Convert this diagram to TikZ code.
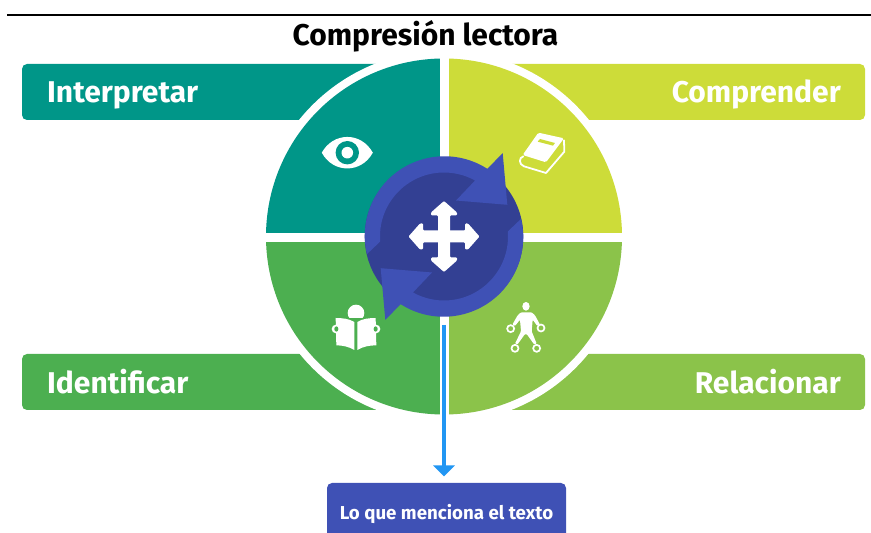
\documentclass[tikz,border=0pt]{standalone}
\usepackage{fontspec}
\setmainfont{Fira Sans}
\usetikzlibrary{arrows.meta}
\definecolor{cTeal}{HTML}{009688}
\definecolor{cLime}{HTML}{CDDC39}
\definecolor{cGreen}{HTML}{4CAF50}
\definecolor{cLeaf}{HTML}{8BC34A}
\definecolor{cIndigo}{HTML}{3F51B5}
\definecolor{cDark}{HTML}{334093}
\definecolor{cBlue}{HTML}{2196F3}
\tikzset{
  barlabel/.style={font=\fontsize{30}{32}\selectfont\bfseries, text=white, inner sep=0pt},
  bar/.style={rounded corners=5pt},
}
\begin{document}
\begin{tikzpicture}[x=1pt,y=1pt]
\useasboundingbox (0,0) rectangle (871,533);
\clip (0,0) rectangle (871,533);
\draw[line width=1.5pt] (7,518) -- (871,518);
% bars
\fill[cTeal,bar] (22,413) rectangle (444,469);
\fill[cLime,bar] (444,413) rectangle (865,469);
\fill[cGreen,bar] (22,123) rectangle (444,179);
\fill[cLeaf,bar] (444,123) rectangle (865,179);
\fill[white] (444,296.5) circle (186);
% quadrants
\begin{scope}
\clip (444,296.5) circle (178);
\fill[cTeal] (260,300.3) rectangle (440,480);
\fill[cLime] (448.7,300.3) rectangle (630,480);
\fill[cGreen] (260,291.3) rectangle (440,110);
\fill[cLeaf] (448.7,291.3) rectangle (630,110);
\end{scope}
% hub
\node[circle,fill=cDark,minimum size=158.6pt,inner sep=0pt] (hub) at (444,296.5) {};
\begin{scope}[shift={(444,296.5)}]
\foreach \r in {0,180}{
\fill[cIndigo,rotate=\r] (184.5:64) arc[start angle=184.5,end angle=61,radius=64]
  -- (12,36) -- (63.3,31.7) -- (58.7,83.3) -- (43.3,67.7)
  arc[start angle=57.4,end angle=193.3,radius=79.6] -- cycle;
}
% move icon
\foreach \r in {0,90,180,270}{
\fill[white,rotate=\r,rounded corners=1pt] (-6,0) -- (-6,21) -- (-13,21) -- (-13,24) -- (0,35.5) -- (13,24) -- (13,21) -- (6,21) -- (6,0) -- cycle;
}
\end{scope}
% eye
\begin{scope}[shift={(347.3,380.3)}]
\fill[white] (-25.5,0) .. controls (-14,21) and (14,21) .. (25.5,0) .. controls (14,-21) and (-14,-21) .. (-25.5,0) -- cycle;
\fill[cTeal] (0,0) circle (11.7);
\fill[white] (0,0) circle (5.8);
\end{scope}
% book
\begin{scope}[shift={(510,408)},x=0.3333pt,y=-0.3333pt]
\fill[white,rounded corners=1.5pt] (85,23) -- (162,40) -- (108,112) -- (38,90) -- cycle;
\draw[white,line width=1.8pt,line join=round,line cap=round] (40,94) .. controls (26,98) and (26,118) .. (42,124) -- (108,144) -- (163,80) -- (162,46);
\fill[cLime] (90,42) -- (135,54) -- (129,62) -- (83,50) -- cycle;
\end{scope}
% reader
\begin{scope}[shift={(325,235)},x=0.3333pt,y=-0.3333pt]
\begin{scope}
\clip (60,10) rectangle (126,60);
\fill[white] (93,45) circle (25);
\end{scope}
\fill[white] (32,60) .. controls (52,60) and (72,62) .. (88,72) -- (88,156) .. controls (72,146) and (52,142) .. (34,142) -- cycle;
\fill[white] (97,72) .. controls (113,62) and (133,60) .. (152,60) -- (154,142) .. controls (133,142) and (113,146) .. (97,156) -- cycle;
\fill[white] (33,93) circle (13);
\fill[white] (153,93) circle (13);
\fill[cGreen] (34,93) ellipse (6 and 8);
\fill[cGreen] (152,93) ellipse (6 and 8);
\end{scope}
% person
\begin{scope}[shift={(495,235)},x=0.3333pt,y=-0.3333pt]
\fill[white] (93,25) ellipse (11 and 13);
\fill[white,rounded corners=1pt] (78,43) -- (110,43) -- (120,52) -- (135,80) -- (127,84) -- (113,65) -- (110,100) -- (125,137) -- (118,140) -- (95,108) -- (90,108) -- (67,140) -- (60,137) -- (78,100) -- (75,65) -- (60,84) -- (52,80) -- (68,52) -- cycle;
\foreach \cx/\cy in {47/92,138/90,60/151,125/151}{
\fill[cLeaf] (\cx,\cy) circle (11);
\draw[white,line width=1.7pt] (\cx,\cy) circle (10.5);
}
\end{scope}
% labels
\node[font=\fontsize{30}{32}\selectfont\bfseries,inner sep=0pt,anchor=base] (title) at (425.5,487) {Compresión lectora};
\node[barlabel,anchor=base west] (interpretar) at (47,430) {Interpretar};
\node[barlabel,anchor=base east] (comprender) at (841,430) {Comprender};
\node[barlabel,anchor=base west] (identificar) at (47,139) {Identificar};
\node[barlabel,anchor=base east] (relacionar) at (841,139) {Relacionar};
\node[fill=cIndigo,rounded corners=5pt,minimum width=239pt,minimum height=62pt,text=white,font=\fontsize{18.7}{20}\selectfont\bfseries] (box) at (446.5,19) {Lo que menciona el texto};
\draw[cBlue,line width=4.5pt,-{Triangle[width=21pt,length=11pt]},shorten <=9pt,shorten >=6.3pt] (hub.south) -- (hub.south |- box.north);
\end{tikzpicture}
\end{document}
